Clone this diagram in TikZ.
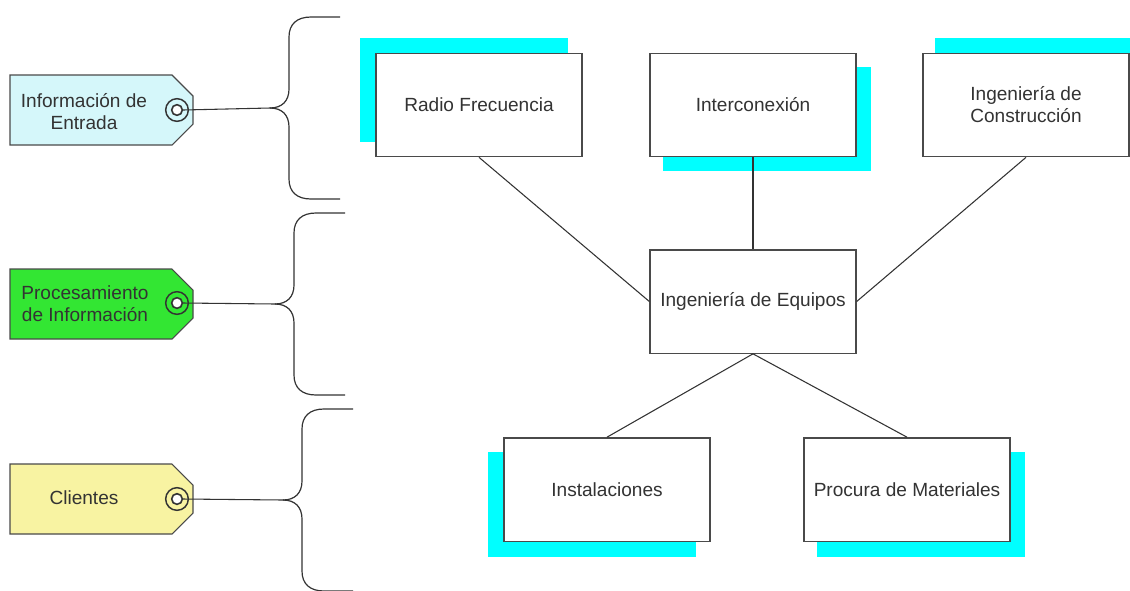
\documentclass[tikz,border=0pt]{standalone}
\usepackage{fontspec}
\setmainfont{Liberation Sans}
\usetikzlibrary{backgrounds}
\definecolor{shadowcyan}{HTML}{00FFFF}
\definecolor{tagcyan}{HTML}{D5F7FA}
\definecolor{taggreen}{HTML}{33E633}
\definecolor{tagyellow}{HTML}{F8F3A2}
\definecolor{inkgray}{HTML}{333333}
\definecolor{edgegray}{HTML}{4A4A4A}
\begin{document}
\begin{tikzpicture}[x=0.75pt,y=-0.75pt,
  every node/.style={font=\fontsize{14.3pt}{16.5pt}\selectfont, text=inkgray},
  topic/.style={draw=edgegray, line width=1pt, fill=white, align=center,
    minimum width=154.5pt, minimum height=77.5pt, inner sep=0pt},
  shadowbox/.style={fill=shadowcyan, draw=none},
  link/.style={draw=inkgray, line width=0.8pt},
  tagbody/.style={draw=edgegray, line width=0.8pt},
  tagtext/.style={align=center, inner sep=0pt},
  ringout/.style={circle, draw=inkgray, line width=1.1pt, minimum size=17pt, inner sep=0pt},
  ringin/.style={circle, draw=inkgray, line width=1.2pt, fill=white, minimum size=8pt, inner sep=0pt},
  bracestyle/.style={draw=inkgray, line width=0.9pt},
  curlybrace/.pic={
    \draw[bracestyle] (0,0) .. controls (12,0) and (19,-7) .. (19,-19) -- (19,-71)
      .. controls (19,-84) and (27,-91) .. (41,-91) -- (70,-91);
    \draw[bracestyle] (0,0) .. controls (12,0) and (19,7) .. (19,19) -- (19,71)
      .. controls (19,84) and (27,91) .. (41,91) -- (70,91);
  }]
\useasboundingbox (0,0) rectangle (1130,590);

% topic boxes
\node[topic] (rf) at (479,105) {Radio Frecuencia};
\node[topic] (ic) at (753,105) {Interconexión};
\node[topic] (co) at (1026,105) {Ingeniería de\\Construcción};
\node[topic] (eq) at (753,301.5) {Ingeniería de Equipos};
\node[topic] (in) at (607,489.5) {Instalaciones};
\node[topic] (pm) at (907,489.5) {Procura de Materiales};

% offset cyan shadows behind the boxes
\begin{pgfonlayer}{background}
  \fill[shadowbox] ([shift={(-15,-15)}]rf.south west) rectangle ([shift={(-15,-15)}]rf.north east);
  \fill[shadowbox] ([shift={(14,14)}]ic.south west) rectangle ([shift={(14,14)}]ic.north east);
  \fill[shadowbox] ([shift={(13,-15)}]co.south west) rectangle ([shift={(13,-15)}]co.north east);
  \fill[shadowbox] ([shift={(-15,15)}]in.south west) rectangle ([shift={(-15,15)}]in.north east);
  \fill[shadowbox] ([shift={(14,15)}]pm.south west) rectangle ([shift={(14,15)}]pm.north east);
\end{pgfonlayer}

% connectors between boxes
\draw[link] (rf.south) -- (eq.west);
\draw[link] (ic.south) -- (eq.north);
\draw[link] (co.south) -- (eq.east);
\draw[link] (eq.south) -- (in.north);
\draw[link] (eq.south) -- (pm.north);

% tags
\draw[tagbody, fill=tagcyan] (10,75) -- (172,75) -- (193,96) -- (193,124) -- (172,145) -- (10,145) -- cycle;
\draw[tagbody, fill=taggreen] (10,269) -- (172,269) -- (193,290) -- (193,318) -- (172,339) -- (10,339) -- cycle;
\draw[tagbody, fill=tagyellow] (10,464) -- (172,464) -- (193,485) -- (193,513) -- (172,534) -- (10,534) -- cycle;

\node[tagtext] (t1) at (84,112) {Información de\\Entrada};
\node[tagtext] (t2) at (85,304) {Procesamiento\\de Información};
\node[tagtext] (t3) at (84,498) {Clientes};

\node[ringout] (r1) at (177,110) {};
\node[ringin] (r1c) at (177,110) {};
\node[ringout] (r2) at (177,303) {};
\node[ringin] (r2c) at (177,303) {};
\node[ringout] (r3) at (177,499) {};
\node[ringin] (r3c) at (177,499) {};

% braces
\coordinate (b1) at (270,108);
\coordinate (b2) at (275,304);
\coordinate (b3) at (283,500);
\pic at (b1) {curlybrace};
\pic at (b2) {curlybrace};
\pic at (b3) {curlybrace};

\draw[link] (r1c.east) -- (b1);
\draw[link] (r2c.east) -- (b2);
\draw[link] (r3c.east) -- (b3);
\end{tikzpicture}
\end{document}
